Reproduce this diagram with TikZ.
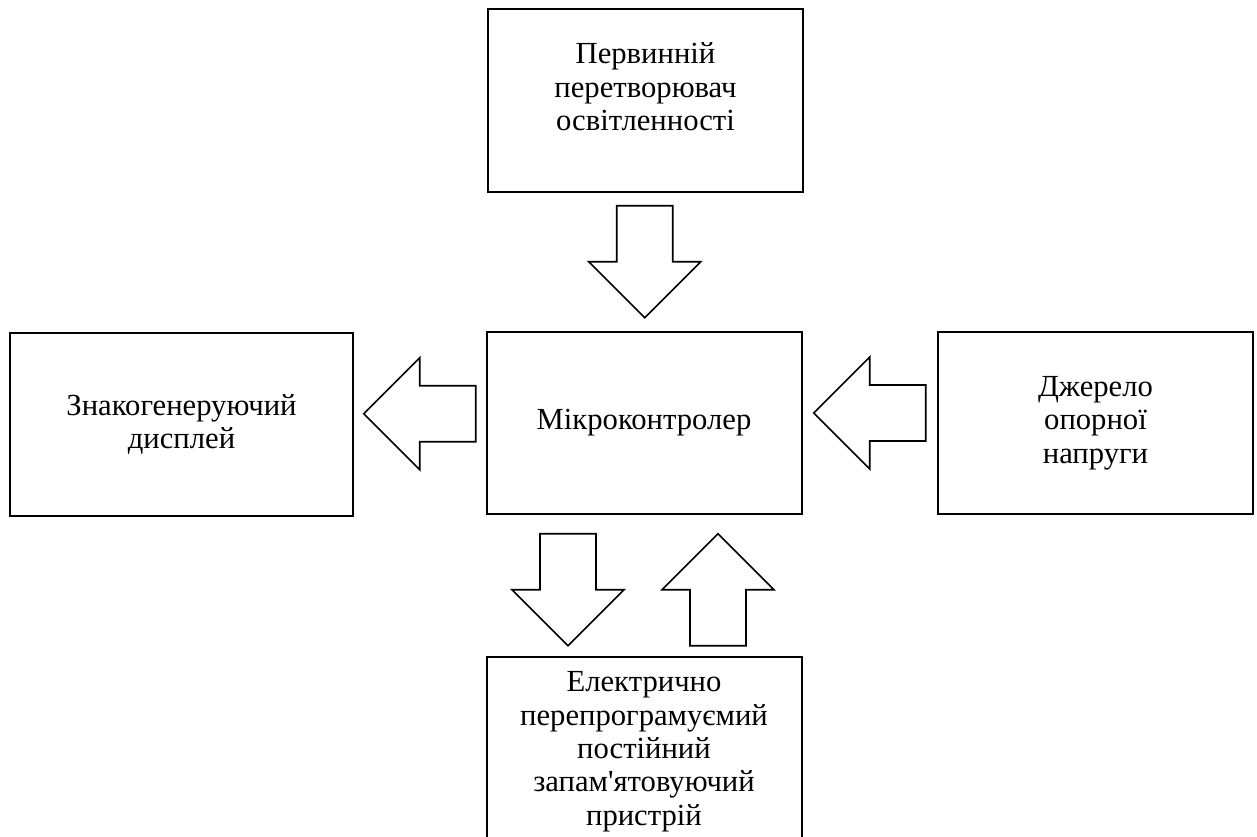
\documentclass[tikz,border=0pt]{standalone}
\usepackage{fontspec}
\setmainfont{Liberation Serif}
\usetikzlibrary{calc}

\tikzset{
  block/.style={draw, line width=1.5pt, minimum width=236.25pt, minimum height=137pt,
    inner sep=0pt, align=center, font=\fontsize{23}{25}\selectfont},
  bigarrow/.pic={
    \draw[line width=1.3pt] (-28,-56) -- (28,-56) -- (28,0) -- (56,0) -- (0,56)
      -- (-56,0) -- (-28,0) -- cycle;
  }
}

\begin{document}
\begin{tikzpicture}[x=0.75pt,y=-0.75pt]
  \useasboundingbox (0,0) rectangle (1257,836);

  \node [block, text depth=21pt] (sensor) at (645.5,100.5) {Первинній\\перетворювач\\освітленності};
  \node [block, minimum width=257.25pt] (display) at (181.5,424.5) {Знакогенеруючий\\дисплей};
  \node [block] (mcu) at (644,423) {Мікроконтролер};
  \node [block] (source) at (1095.5,423) {Джерело\\опорної\\напруги};
  \node [block, text depth=0pt] (eeprom) at (644,748.5) {Електрично\\перепрограмуємий\\постійний\\запам\textquotesingle ятовуючий\\пристрій};

  \pic at ($(sensor.south)!0.5!(mcu.north)$) {bigarrow};
  \pic [rotate=-90] at ($(display.east)!0.5!(mcu.west)+(0,-10)$) {bigarrow};
  \pic [rotate=-90] at ($(mcu.east)!0.5!(source.west)+(0,-10)$) {bigarrow};
  \pic at ($(mcu.south)!0.5!(eeprom.north)+(-76,4)$) {bigarrow};
  \pic [rotate=180] at ($(mcu.south)!0.5!(eeprom.north)+(74,4)$) {bigarrow};
\end{tikzpicture}
\end{document}
